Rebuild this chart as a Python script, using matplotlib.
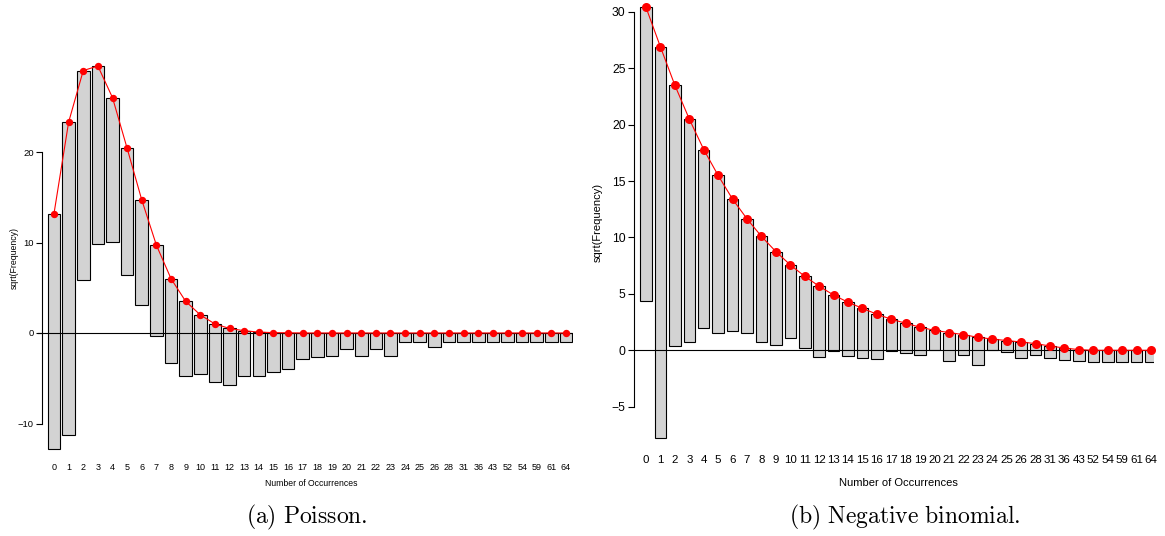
import matplotlib
matplotlib.use("Agg")
import matplotlib.pyplot as plt
import numpy as np

plt.rcParams['font.family'] = ['Liberation Sans', 'DejaVu Sans']
plt.rcParams['mathtext.fontset'] = 'cm'

categories = ["0", "1", "2", "3", "4", "5", "6", "7", "8", "9", "10", "11", "12",
              "13", "14", "15", "16", "17", "18", "19", "20", "21", "22", "23",
              "24", "25", "26", "28", "31", "36", "43", "52", "54", "59", "61", "64"]

# Poisson fit: sqrt(expected) and bottom of hanging bars
pois_expected = [13.2, 23.3, 29.0, 29.5, 26.0, 20.4, 14.7, 9.7, 6.0, 3.5, 2.0, 1.0, 0.5,
                 0.25, 0.1, 0.04, 0.02, 0, 0, 0, 0, 0, 0, 0,
                 0, 0, 0, 0, 0, 0, 0, 0, 0, 0, 0, 0]
pois_bottom = [-12.8, -11.3, 5.9, 9.8, 10.1, 6.4, 3.1, -0.3, -3.3, -4.7, -4.5, -5.4, -5.7,
               -4.8, -4.7, -4.3, -4.0, -2.9, -2.7, -2.5, -1.8, -2.5, -1.8, -2.5,
               -1.0, -1.0, -1.5, -1.0, -1.0, -1.0, -1.0, -1.0, -1.0, -1.0, -1.0, -1.0]

# Negative binomial fit
nb_expected = [30.4, 26.9, 23.5, 20.5, 17.8, 15.5, 13.4, 11.65, 10.1, 8.75, 7.57, 6.56, 5.68,
               4.9, 4.26, 3.72, 3.2, 2.75, 2.4, 2.04, 1.77, 1.57, 1.39, 1.15,
               1.0, 0.86, 0.74, 0.59, 0.38, 0.2, 0.06, 0.0, 0.0, 0.0, 0.0, 0.0]
nb_bottom = [4.4, -7.8, 0.4, 0.7, 1.95, 1.5, 1.75, 1.55, 0.77, 0.5, 1.1, 0.18, -0.56,
             -0.06, -0.53, -0.65, -0.8, -0.06, -0.27, -0.38, 0.06, -0.92, -0.38, -1.33,
             0.0, -0.15, -0.65, -0.44, -0.65, -0.83, -0.95, -1.0, -1.0, -1.0, -1.0, -1.0]

W, H = 1165, 536
fig = plt.figure(figsize=(W / 100, H / 100), dpi=100)


def add_axes_px(left, right, top, bottom):
    return fig.add_axes([left / W, 1 - bottom / H, (right - left) / W, (bottom - top) / H])


def rootogram(ax, expected, bottom, xlim, ylim, spine_x, ybounds, yticks,
              barw, tick_fs, ms, ylabel_fs, ylabel_pos, xpad):
    x = np.arange(len(categories))
    exp = np.array(expected)
    bot = np.array(bottom)
    ax.bar(x, exp - bot, bottom=bot, width=barw, color='#D3D3D3',
           edgecolor='black', linewidth=0.8, zorder=2)
    ax.axhline(0, color='black', linewidth=0.8, zorder=3)
    ax.plot(x, exp, color='red', linewidth=0.8, zorder=4, clip_on=False)
    ax.plot(x, exp, 'o', color='red', markersize=ms, markeredgewidth=0,
            zorder=5, clip_on=False)
    ax.set_xlim(*xlim)
    ax.set_ylim(*ylim)
    for s in ['top', 'right', 'bottom']:
        ax.spines[s].set_visible(False)
    ax.spines['left'].set_position(('data', spine_x))
    ax.spines['left'].set_bounds(*ybounds)
    ax.spines['left'].set_linewidth(0.8)
    ax.set_yticks(yticks)
    ax.set_yticklabels([str(v).replace('-', '\u2212') for v in yticks])
    ax.tick_params(axis='y', length=4, width=0.8, labelsize=tick_fs, pad=2)
    ax.set_xticks(x)
    ax.set_xticklabels(categories)
    ax.tick_params(axis='x', length=0, labelsize=tick_fs * 0.95, pad=xpad)
    ax.set_ylabel('sqrt(Frequency)', fontsize=ylabel_fs)
    ax.yaxis.set_label_coords(*ylabel_pos)
    ax.yaxis.label.set_va('center')
    ax.patch.set_visible(False)


# Panel (a)
ax1 = add_axes_px(38, 573, 52, 455)
rootogram(ax1, pois_expected, pois_bottom,
          xlim=(-(54 - 38) / 14.63, (573 - 54) / 14.63),
          ylim=(-(455 - 333) / 9.05, (333 - 52) / 9.05),
          spine_x=-(54 - 42) / 14.63, ybounds=(-10, 20), yticks=[-10, 0, 10, 20],
          barw=0.86, tick_fs=6.8, ms=5.3, ylabel_fs=6.3,
          ylabel_pos=((14 - 38) / 535, 0.489), xpad=6)

# Panel (b)
ax2 = add_axes_px(634, 1154, 5, 445)
rootogram(ax2, nb_expected, nb_bottom,
          xlim=(-(646 - 634) / 14.43, (1154 - 646) / 14.43),
          ylim=(-(445 - 350.3) / 11.28, (350.3 - 5) / 11.28),
          spine_x=-(646 - 634) / 14.43, ybounds=(-5, 30), yticks=[-5, 0, 5, 10, 15, 20, 25, 30],
          barw=0.8, tick_fs=8.7, ms=6.5, ylabel_fs=8.0,
          ylabel_pos=((598 - 634) / 520, 0.505), xpad=7)

fig.text(311 / W, 1 - 484 / H, 'Number of Occurrences', fontsize=6.2,
         ha='center', va='center')
fig.text(898 / W, 1 - 483 / H, 'Number of Occurrences', fontsize=8.0,
         ha='center', va='center')
fig.text(307 / W, 1 - 517 / H, r'$\mathrm{(a)\ Poisson.}$', fontsize=17,
         ha='center', va='center')
fig.text(905 / W, 1 - 517 / H, r'$\mathrm{(b)\ Negative\ binomial.}$', fontsize=17,
         ha='center', va='center')

fig.savefig('out.png', dpi=100)
